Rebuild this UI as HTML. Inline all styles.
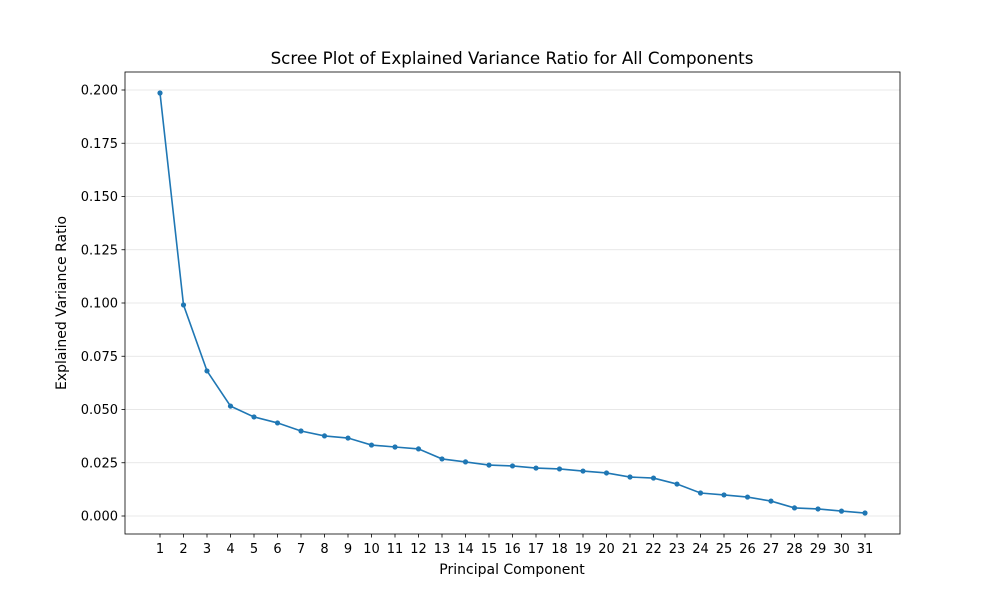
<!DOCTYPE html>
<html><head><meta charset="utf-8"><style>
body{margin:0;background:#fff;}
svg text{font-family:"DejaVu Sans","Liberation Sans",sans-serif;fill:#000;}
</style></head><body>
<svg id="chart" width="1000" height="600" viewBox="0 0 1000 600" xmlns="http://www.w3.org/2000/svg"></svg>
<script>
const components = [1,2,3,4,5,6,7,8,9,10,11,12,13,14,15,16,17,18,19,20,21,22,23,24,25,26,27,28,29,30,31];
const varianceRatio = [0.1986,0.0991,0.0681,0.0516,0.0465,0.0437,0.0399,0.0376,0.0366,0.0333,0.0324,0.0315,0.0268,0.0254,0.0239,0.0235,0.0225,0.0221,0.0211,0.0202,0.0183,0.0178,0.0150,0.0108,0.0099,0.0089,0.0070,0.0038,0.0033,0.0023,0.0014];
const yTicks = [0,0.025,0.05,0.075,0.1,0.125,0.15,0.175,0.2];
const yTickLabels = ["0.000","0.025","0.050","0.075","0.100","0.125","0.150","0.175","0.200"];

const svg = document.getElementById('chart');
const NS = 'http://www.w3.org/2000/svg';
const L=125,R=900,T=72,B=534;
const xScale = c => 160 + (c-1)*(865-160)/30;
const yScale = v => 516 - v*(516-90)/0.2;
function mk(tag, attrs){const e=document.createElementNS(NS,tag);for(const k in attrs)e.setAttribute(k,attrs[k]);svg.appendChild(e);return e;}

yTicks.forEach((t,i)=>{
  const g=mk('line',{x1:L,x2:R,y1:yScale(t),y2:yScale(t),stroke:'#e0e0e0','stroke-width':0.8});
  
  
  const tk=mk('line',{x1:L-3.5,x2:L,y1:yScale(t),y2:yScale(t),stroke:'#000','stroke-width':0.8});
  
  
  const tx=mk('text',{x:L-7,y:yScale(t)+4.5,'text-anchor':'end','font-size':13});
  tx.textContent=yTickLabels[i];
  
  
});
components.forEach(c=>{
  const tk=mk('line',{x1:xScale(c),x2:xScale(c),y1:B,y2:B+3.5,stroke:'#000','stroke-width':0.8});
  
  
  const tx=mk('text',{x:xScale(c),y:B+19,'text-anchor':'middle','font-size':13});
  tx.textContent=String(c);
  
  
});
const pts=components.map((c,i)=>xScale(c)+','+yScale(varianceRatio[i])).join(' ');
const pl=mk('polyline',{points:pts,fill:'none',stroke:'#1f77b4','stroke-width':1.6});


components.forEach((c,i)=>{
  const p=mk('circle',{cx:xScale(c),cy:yScale(varianceRatio[i]),r:2.6,fill:'#1f77b4'});
  
  
});
const fr=mk('rect',{x:L,y:T,width:R-L,height:B-T,fill:'none',stroke:'#000','stroke-width':0.8});


const ti=mk('text',{x:512,y:64,'text-anchor':'middle','font-size':16.7});
ti.textContent='Scree Plot of Explained Variance Ratio for All Components';


const xt=mk('text',{x:512,y:574,'text-anchor':'middle','font-size':14});
xt.textContent='Principal Component';


const yt=mk('text',{x:0,y:0,'text-anchor':'middle','font-size':14,transform:'translate(66,303) rotate(-90)'});
yt.textContent='Explained Variance Ratio';


</script>
</body></html>
